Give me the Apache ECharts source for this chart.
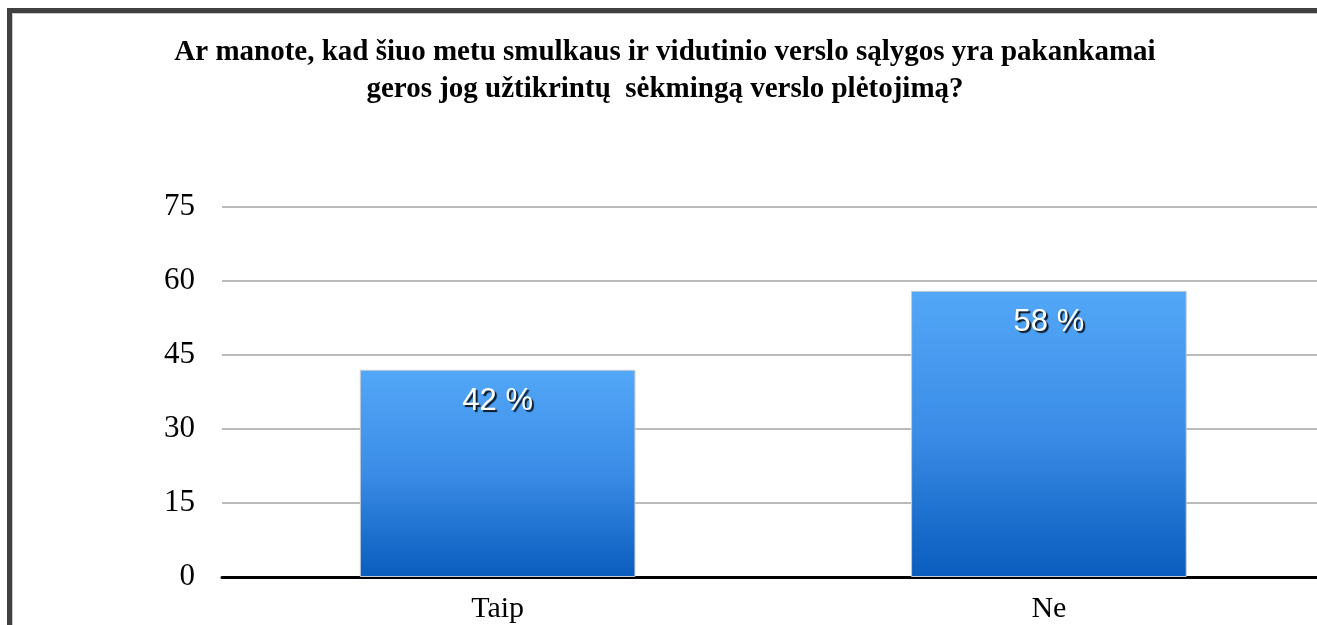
<!DOCTYPE html>
<html>
<head>
<meta charset="utf-8">
<script src="https://cdn.jsdelivr.net/npm/echarts@6/dist/echarts.min.js"></script>
<style>
  html, body { margin: 0; padding: 0; background: #fff; overflow: hidden; }
  #frame { position: absolute; left: 7px; top: 8px; width: 1340px; height: 640px;
           border-left: 5px solid #404040; border-top: 5px solid #404040;
           box-shadow: inset 1px 1px 0 #c8c8c8; }
  #main { position: absolute; left: 0; top: 0; width: 1330px; height: 625px; }
</style>
</head>
<body>
<div id="frame"></div>
<div id="main"></div>
<script>
// duomenys
var categories = ['Taip', 'Ne'];
var values = [42, 58];
var yMin = 0, yMax = 75, yStep = 15;
var titleText = 'Ar manote, kad šiuo metu smulkaus ir vidutinio verslo sąlygos yra pakankamai\ngeros jog užtikrintų  sėkmingą verslo plėtojimą?';

var myChart = echarts.init(document.getElementById('main'));
var option = {
    animation: false,
    title: {
        text: titleText,
        left: 'center',
        top: 29,
        textStyle: {
            fontFamily: 'Liberation Serif',
            fontWeight: 'bold',
            fontSize: 29,
            lineHeight: 37,
            color: '#000'
        }
    },
    grid: {
        left: 222,
        right: 5.5,
        top: 207,
        bottom: 48,
        containLabel: false,
        outerBoundsMode: 'none'
    },
    xAxis: {
        type: 'category',
        data: categories,
        axisTick: { show: false },
        axisLine: { lineStyle: { color: '#000', width: 3 } },
        axisLabel: {
            margin: 17,
            fontFamily: 'Liberation Serif',
            fontSize: 30,
            color: '#000'
        }
    },
    yAxis: {
        type: 'value',
        min: yMin,
        max: yMax,
        interval: yStep,
        axisLine: { show: false },
        axisTick: { show: false },
        axisLabel: {
            margin: 27,
            fontFamily: 'Liberation Serif',
            fontSize: 31,
            color: '#000'
        },
        splitLine: { lineStyle: { color: '#a5a5a5', width: 1.5 } }
    },
    series: [{
        type: 'bar',
        data: values,
        barCategoryGap: '50%',
        itemStyle: {
            color: new echarts.graphic.LinearGradient(0, 0, 0, 1, [
                { offset: 0, color: '#53a7f7' },
                { offset: 0.5, color: '#3a8ce6' },
                { offset: 1, color: '#0a5cbe' }
            ]),
            borderColor: '#c4ccd6',
            borderWidth: 1
        },
        label: {
            show: true,
            position: 'insideTop',
            distance: 16,
            formatter: '{c} %',
            fontFamily: 'Liberation Sans',
            fontSize: 31,
            color: '#fff',
            textShadowColor: 'rgba(0,0,0,0.85)',
            textShadowOffsetX: 2,
            textShadowOffsetY: 2,
            textShadowBlur: 1
        }
    }]
};
myChart.setOption(option);
</script>
</body>
</html>
